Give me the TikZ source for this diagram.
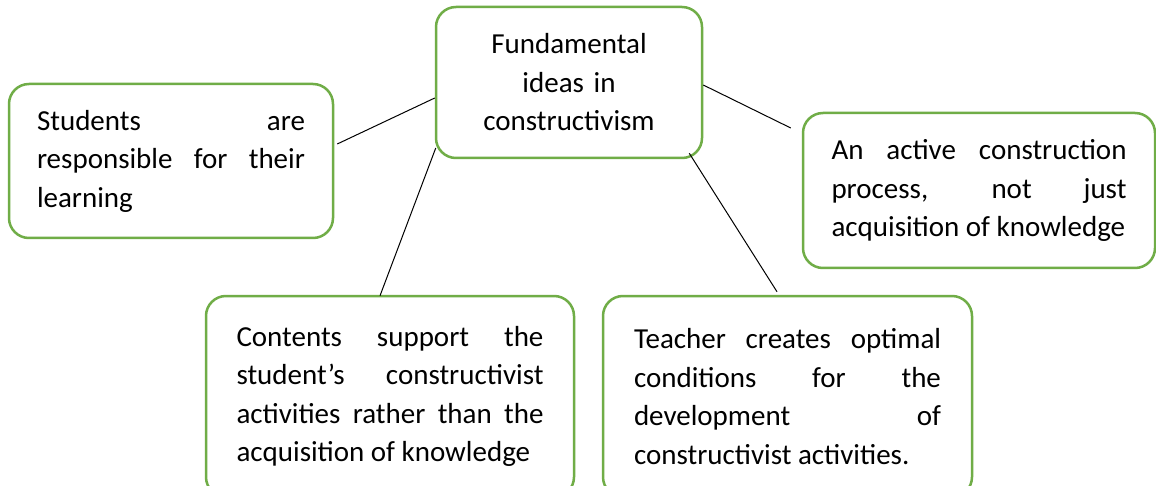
\documentclass[tikz,border=0pt]{standalone}
\usepackage{fontspec}
\setmainfont{Carlito}
\definecolor{ideagreen}{RGB}{112,173,71}
\tolerance=10000
\hyphenpenalty=10000

\begin{document}
\begin{tikzpicture}
      [ x = 1pt, y = -1pt
      , idea/.style =
        { draw = ideagreen, line width = 2.5pt, rounded corners = 20pt
        , inner sep = 0pt, align = justify
        , font = \fontsize{29}{38.5}\selectfont }
      , conn/.style =
        { line width = 1pt, black }
      ]
      \clip (0,0) rectangle (1156,486);
      \fill [white] (0,0) rectangle (1156,486);
      \node [idea, align = center, text width = 240, minimum width = 266, minimum height = 151] (fund) at (569, 82.5)
        {Fundamental\\ ideas in\\ constructivism};
      \node [idea, text width = 268, minimum width = 324, minimum height = 154] (stud) at (171, 161)
        {Students are \linebreak responsible for their \linebreak learning};
      \node [idea, text width = 295, minimum width = 352, minimum height = 155] (act) at (979, 190.5)
        {An active construction \linebreak process, not just \linebreak acquisition of knowledge};
      \node [idea, text width = 307, minimum width = 368, minimum height = 201] (cont) at (390, 396.5)
        {Contents support the \linebreak student’s constructivist \linebreak activities rather than the \linebreak acquisition of knowledge};
      \node [idea, text width = 307, minimum width = 369, minimum height = 201] (teach) at (787.5, 396.5)
        {Teacher creates optimal \linebreak conditions for the \linebreak development of \linebreak constructivist activities.};
      \draw [conn] ([yshift=-15.5]fund.west) to ([xshift=3, yshift=17]stud.east);
      \draw [conn] ([yshift=-2.5]fund.east) to ([xshift=-11, yshift=62.5]act.west);
      \draw [conn] ([xshift=1, yshift=-65.5]fund.west) to ([xshift=-10, yshift=-1]cont.north);
      \draw [conn] ([xshift=-14, yshift=6]fund.south east) to ([xshift=-10.5, yshift=3]teach.north);
    \end{tikzpicture}
\end{document}
